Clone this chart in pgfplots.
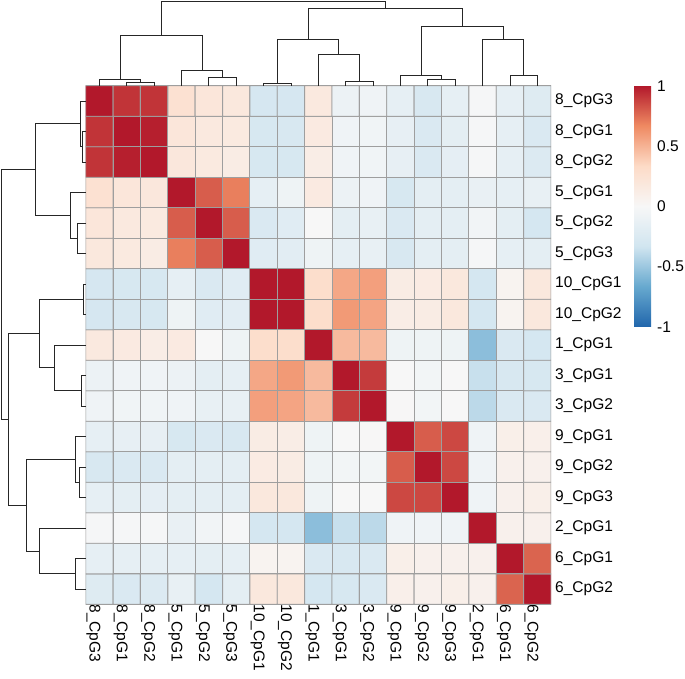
\documentclass[border=0pt]{standalone}
\usepackage{pgfplots}
\pgfplotsset{compat=1.18}
\usepackage{pgfplotstable}
\usepackage{fontspec}
\setmainfont{Liberation Sans}

\pgfplotsset{
  every tick label/.append style={font=\fontsize{15.5}{18}\selectfont},
  colormap={rdbu}{rgb255=(33,102,172) rgb255=(103,169,207) rgb255=(209,229,240)
    rgb255=(247,247,247) rgb255=(253,219,199) rgb255=(239,138,98) rgb255=(178,24,43)},
}

% dendrogram: leaf position p (0 = first leaf), merge height h (px above the heatmap)
\pgfplotstableread{
p h
1 0
1 3.2
2 3.2
2 0
nan nan
0 0
0 5.8
1.5 5.8
1.5 3.2
nan nan
4 0
4 8.7
5 8.7
5 0
nan nan
3 0
3 15.2
4.5 15.2
4.5 8.7
nan nan
0.75 5.8
0.75 50.5
3.75 50.5
3.75 15.2
nan nan
6 0
6 2.3
7 2.3
7 0
nan nan
9 0
9 4.5
10 4.5
10 0
nan nan
8 0
8 31.5
9.5 31.5
9.5 4.5
nan nan
6.5 2.3
6.5 46
8.75 46
8.75 31.5
nan nan
12 0
12 6.3
13 6.3
13 0
nan nan
11 0
11 10
12.5 10
12.5 6.3
nan nan
15 0
15 10.5
16 10.5
16 0
nan nan
14 0
14 46.5
15.5 46.5
15.5 10.5
nan nan
11.75 10
11.75 59.3
14.75 59.3
14.75 46.5
nan nan
7.625 46
7.625 77
13.25 77
13.25 59.3
nan nan
2.25 50.5
2.25 84.3
10.4375 84.3
10.4375 77
}\dendro

\begin{document}
\begin{tikzpicture}
\path[use as bounding box] (0,0) rectangle (685pt,-679pt);

% heatmap
\begin{axis}[
  at={(318.35pt,-345pt)}, anchor=center,
  width=465.3pt, height=518.6pt, scale only axis,
  xmin=-0.5, xmax=16.5, ymin=-0.5, ymax=16.5,
  enlargelimits=false,
  axis line style={draw=none},
  major tick length=0,
  xtick={0,...,16}, ytick={0,...,16},
  xticklabels={8\_CpG3,8\_CpG1,8\_CpG2,5\_CpG1,5\_CpG2,5\_CpG3,10\_CpG1,10\_CpG2,1\_CpG1,3\_CpG1,3\_CpG2,9\_CpG1,9\_CpG2,9\_CpG3,2\_CpG1,6\_CpG1,6\_CpG2},
  yticklabels={6\_CpG2,6\_CpG1,2\_CpG1,9\_CpG3,9\_CpG2,9\_CpG1,3\_CpG2,3\_CpG1,1\_CpG1,10\_CpG2,10\_CpG1,5\_CpG3,5\_CpG2,5\_CpG1,8\_CpG2,8\_CpG1,8\_CpG3},
  yticklabel pos=right,
  yticklabel style={anchor=west, inner sep=0pt, xshift=4pt},
  xticklabel style={rotate=-90, anchor=west, inner sep=0pt, yshift=-6pt},
  colormap name=rdbu,
  point meta min=-1, point meta max=1,
  colorbar,
  colorbar shift/.style={},
  colorbar/width=17pt,
  colorbar style={
    at={(parent axis.north east)}, anchor=north west, xshift=83pt,
    width=17pt, height=241pt,
    axis line style={draw=none},
    major tick length=0,
    ytick={-1,-0.5,0,0.5,1},
    yticklabels={-1,-0.5,0,0.5,1},
    yticklabel style={anchor=west, inner sep=0pt, xshift=6pt},
  },
]
\addplot[matrix plot*, mesh/cols=17, point meta=explicit, draw=black!38, line width=0.9pt] coordinates {
(0,0)[-0.22] (1,0)[-0.25] (2,0)[-0.24] (3,0)[-0.13] (4,0)[-0.3] (5,0)[-0.17] (6,0)[0.18] (7,0)[0.18] (8,0)[-0.3] (9,0)[-0.28] (10,0)[-0.25] (11,0)[0.09] (12,0)[0.08] (13,0)[0.1] (14,0)[0.08] (15,0)[0.78] (16,0)[1]
(0,1)[-0.15] (1,1)[-0.15] (2,1)[-0.15] (3,1)[-0.15] (4,1)[-0.17] (5,1)[-0.15] (6,1)[0.05] (7,1)[0.05] (8,1)[-0.25] (9,1)[-0.27] (10,1)[-0.25] (11,1)[0.1] (12,1)[0.08] (13,1)[0.08] (14,1)[0.08] (15,1)[1] (16,1)[0.78]
(0,2)[-0.02] (1,2)[-0.02] (2,2)[-0.02] (3,2)[-0.12] (4,2)[-0.05] (5,2)[-0.02] (6,2)[-0.3] (7,2)[-0.3] (8,2)[-0.55] (9,2)[-0.36] (10,2)[-0.4] (11,2)[-0.07] (12,2)[-0.07] (13,2)[-0.07] (14,2)[1] (15,2)[0.08] (16,2)[0.08]
(0,3)[-0.15] (1,3)[-0.17] (2,3)[-0.16] (3,3)[-0.17] (4,3)[-0.17] (5,3)[-0.17] (6,3)[0.18] (7,3)[0.18] (8,3)[-0.08] (9,3)[0] (10,3)[0] (11,3)[0.86] (12,3)[0.86] (13,3)[1] (14,3)[-0.07] (15,3)[0.08] (16,3)[0.1]
(0,4)[-0.27] (1,4)[-0.25] (2,4)[-0.25] (3,4)[-0.17] (4,4)[-0.17] (5,4)[-0.17] (6,4)[0.14] (7,4)[0.13] (8,4)[-0.08] (9,4)[-0.04] (10,4)[-0.04] (11,4)[0.8] (12,4)[1] (13,4)[0.86] (14,4)[-0.07] (15,4)[0.08] (16,4)[0.08]
(0,5)[-0.15] (1,5)[-0.14] (2,5)[-0.14] (3,5)[-0.28] (4,5)[-0.25] (5,5)[-0.27] (6,5)[0.13] (7,5)[0.12] (8,5)[-0.08] (9,5)[0] (10,5)[0.01] (11,5)[1] (12,5)[0.8] (13,5)[0.86] (14,5)[-0.07] (15,5)[0.1] (16,5)[0.09]
(0,6)[-0.07] (1,6)[-0.06] (2,6)[-0.06] (3,6)[-0.07] (4,6)[-0.13] (5,6)[-0.13] (6,6)[0.58] (7,6)[0.56] (8,6)[0.47] (9,6)[0.9] (10,6)[1] (11,6)[0.01] (12,6)[-0.04] (13,6)[0] (14,6)[-0.4] (15,6)[-0.25] (16,6)[-0.25]
(0,7)[-0.1] (1,7)[-0.07] (2,7)[-0.07] (3,7)[-0.1] (4,7)[-0.17] (5,7)[-0.15] (6,7)[0.55] (7,7)[0.6] (8,7)[0.47] (9,7)[1] (10,7)[0.9] (11,7)[0] (12,7)[-0.04] (13,7)[0] (14,7)[-0.36] (15,7)[-0.27] (16,7)[-0.28]
(0,8)[0.17] (1,8)[0.15] (2,8)[0.12] (3,8)[0.15] (4,8)[0] (5,8)[-0.08] (6,8)[0.3] (7,8)[0.3] (8,8)[1] (9,8)[0.47] (10,8)[0.47] (11,8)[-0.08] (12,8)[-0.08] (13,8)[-0.08] (14,8)[-0.55] (15,8)[-0.25] (16,8)[-0.3]
(0,9)[-0.29] (1,9)[-0.27] (2,9)[-0.28] (3,9)[-0.08] (4,9)[-0.2] (5,9)[-0.18] (6,9)[1] (7,9)[1] (8,9)[0.3] (9,9)[0.6] (10,9)[0.56] (11,9)[0.12] (12,9)[0.13] (13,9)[0.18] (14,9)[-0.3] (15,9)[0.05] (16,9)[0.18]
(0,10)[-0.29] (1,10)[-0.28] (2,10)[-0.28] (3,10)[-0.15] (4,10)[-0.25] (5,10)[-0.2] (6,10)[1] (7,10)[1] (8,10)[0.3] (9,10)[0.55] (10,10)[0.58] (11,10)[0.13] (12,10)[0.14] (13,10)[0.18] (14,10)[-0.3] (15,10)[0.05] (16,10)[0.18]
(0,11)[0.18] (1,11)[0.16] (2,11)[0.13] (3,11)[0.7] (4,11)[0.8] (5,11)[1] (6,11)[-0.2] (7,11)[-0.18] (8,11)[-0.08] (9,11)[-0.15] (10,11)[-0.13] (11,11)[-0.27] (12,11)[-0.17] (13,11)[-0.17] (14,11)[-0.02] (15,11)[-0.15] (16,11)[-0.17]
(0,12)[0.2] (1,12)[0.17] (2,12)[0.16] (3,12)[0.8] (4,12)[1] (5,12)[0.8] (6,12)[-0.25] (7,12)[-0.2] (8,12)[0] (9,12)[-0.17] (10,12)[-0.13] (11,12)[-0.25] (12,12)[-0.17] (13,12)[-0.17] (14,12)[-0.05] (15,12)[-0.17] (16,12)[-0.3]
(0,13)[0.26] (1,13)[0.2] (2,13)[0.19] (3,13)[1] (4,13)[0.8] (5,13)[0.7] (6,13)[-0.15] (7,13)[-0.08] (8,13)[0.15] (9,13)[-0.1] (10,13)[-0.07] (11,13)[-0.28] (12,13)[-0.17] (13,13)[-0.17] (14,13)[-0.12] (15,13)[-0.15] (16,13)[-0.13]
(0,14)[0.92] (1,14)[0.98] (2,14)[1] (3,14)[0.19] (4,14)[0.16] (5,14)[0.13] (6,14)[-0.28] (7,14)[-0.28] (8,14)[0.12] (9,14)[-0.07] (10,14)[-0.06] (11,14)[-0.14] (12,14)[-0.25] (13,14)[-0.16] (14,14)[-0.02] (15,14)[-0.15] (16,14)[-0.24]
(0,15)[0.92] (1,15)[1] (2,15)[0.98] (3,15)[0.2] (4,15)[0.17] (5,15)[0.16] (6,15)[-0.28] (7,15)[-0.27] (8,15)[0.15] (9,15)[-0.07] (10,15)[-0.06] (11,15)[-0.14] (12,15)[-0.25] (13,15)[-0.17] (14,15)[-0.02] (15,15)[-0.15] (16,15)[-0.25]
(0,16)[1] (1,16)[0.92] (2,16)[0.92] (3,16)[0.26] (4,16)[0.2] (5,16)[0.18] (6,16)[-0.29] (7,16)[-0.29] (8,16)[0.17] (9,16)[-0.1] (10,16)[-0.07] (11,16)[-0.15] (12,16)[-0.27] (13,16)[-0.15] (14,16)[-0.02] (15,16)[-0.15] (16,16)[-0.22]
};
\end{axis}

% column dendrogram (top)
\begin{axis}[
  at={(318.35pt,-42.85pt)}, anchor=center,
  width=465.3pt, height=85.7pt, scale only axis,
  xmin=-0.5, xmax=16.5, ymin=0, ymax=85.7,
  hide axis, clip=false, unbounded coords=jump,
]
\addplot[black!85, line width=0.8pt] table[x=p, y=h] {\dendro};
\end{axis}

% row dendrogram (left)
\begin{axis}[
  at={(42.85pt,-345pt)}, anchor=center,
  width=85.7pt, height=518.6pt, scale only axis,
  xmin=0, xmax=85.7, ymin=-0.5, ymax=16.5,
  x dir=reverse, y dir=reverse,
  hide axis, clip=false, unbounded coords=jump,
]
\addplot[black!85, line width=0.8pt] table[x=h, y=p] {\dendro};
\end{axis}
\end{tikzpicture}
\end{document}
